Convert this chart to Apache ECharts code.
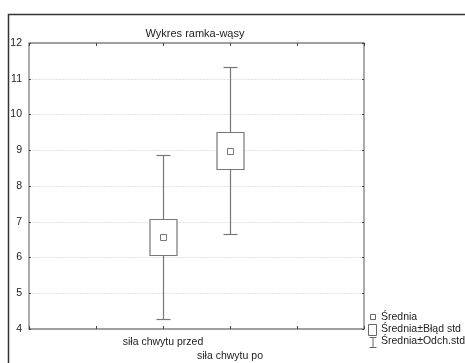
<!DOCTYPE html>
<html><head><meta charset="utf-8">
<script src="https://cdn.jsdelivr.net/npm/echarts@6/dist/echarts.min.js"></script>
<style>html,body{margin:0;padding:0;background:#fff}#c{width:465px;height:363px}</style>
</head><body><div id="c"></div>
<script>
const categories = ['siła chwytu przed', 'siła chwytu po'];
const means = [6.58, 8.99];
const seLow = [6.07, 8.48];
const seHigh = [7.07, 9.50];
const sdLow = [4.28, 6.67];
const sdHigh = [8.88, 11.33];
const yTicks = [4, 5, 6, 7, 8, 9, 10, 11, 12];
const titleText = 'Wykres ramka-wąsy';
const legendNames = ['Średnia', 'Średnia±Błąd std', 'Średnia±Odch.std'];

const FONT = "'Liberation Sans', Arial, sans-serif";
const STROKE = '#777';
const axisCats = ['', ''].concat(categories, ['', '']);
const rows = categories.map((c, i) => [i + 2, means[i], seLow[i], seHigh[i], sdLow[i], sdHigh[i]]);

const chart = echarts.init(document.getElementById('c'));
chart.setOption({
  animation: false,
  backgroundColor: '#fff',
  title: { text: titleText, left: 190, top: 23, textAlign: 'center',
    textStyle: { fontFamily: FONT, fontSize: 11, fontWeight: 'normal', color: '#222' } },
  grid: { left: 29, right: 101, top: 43, bottom: 34, show: true, borderColor: '#808080', borderWidth: 1.3, backgroundColor: '#fff' },
  xAxis: [
    { type: 'category', data: axisCats, boundaryGap: false, position: 'bottom',
      axisLine: { show: false },
      axisTick: { show: true, inside: true, length: 3, interval: 0, lineStyle: { color: '#444' } },
      axisLabel: { interval: 0, margin: 6, fontFamily: FONT, fontSize: 10.5, color: '#222', lineHeight: 14,
        formatter: (v, idx) => idx === 3 ? '\n' + v : v },
      splitLine: { show: false } },
    { type: 'category', data: axisCats, boundaryGap: false, position: 'top',
      axisLine: { show: false },
      axisTick: { show: true, inside: true, length: 3, interval: 0, lineStyle: { color: '#444' } },
      axisLabel: { show: false }, splitLine: { show: false } }
  ],
  yAxis: [
    { type: 'value', min: yTicks[0], max: yTicks[yTicks.length - 1], interval: 1, position: 'left',
      axisLine: { show: false },
      axisTick: { show: true, inside: true, length: 2, lineStyle: { color: '#444' } },
      axisLabel: { margin: 7, fontFamily: FONT, fontSize: 10.5, color: '#222' },
      splitLine: { show: true, showMinLine: false, showMaxLine: false,
        lineStyle: { color: '#e2e2e2', type: [2, 1], width: 1 } } },
    { type: 'value', min: yTicks[0], max: yTicks[yTicks.length - 1], interval: 1, position: 'right',
      axisLine: { show: false },
      axisTick: { show: true, inside: true, length: 2, lineStyle: { color: '#444' } },
      axisLabel: { show: false }, splitLine: { show: false } }
  ],
  series: [
    { name: legendNames[2], type: 'custom', data: rows, z: 2,
      renderItem: (params, api) => {
        const x = api.value(0);
        const top = api.coord([x, api.value(5)]);
        const bot = api.coord([x, api.value(4)]);
        const cx = Math.round(top[0]) + 0.5;
        const ty = Math.round(top[1]) + 0.5, by = Math.round(bot[1]) + 0.5;
        const st = { stroke: STROKE, lineWidth: 1.2 };
        return { type: 'group', children: [
          { type: 'line', shape: { x1: cx, y1: ty, x2: cx, y2: by }, style: st },
          { type: 'line', shape: { x1: cx - 7, y1: ty, x2: cx + 7, y2: ty }, style: st },
          { type: 'line', shape: { x1: cx - 7, y1: by, x2: cx + 7, y2: by }, style: st }
        ] };
      } },
    { name: legendNames[1], type: 'custom', data: rows, z: 3,
      renderItem: (params, api) => {
        const x = api.value(0);
        const top = api.coord([x, api.value(3)]);
        const bot = api.coord([x, api.value(2)]);
        const cx = Math.round(top[0]) + 0.5;
        const ty = Math.round(top[1]) + 0.5, by = Math.round(bot[1]) + 0.5;
        return { type: 'rect', shape: { x: cx - 13.5, y: ty, width: 27, height: by - ty },
          style: { fill: '#fff', stroke: STROKE, lineWidth: 1.2 } };
      } },
    { name: legendNames[0], type: 'custom', data: rows, z: 4,
      renderItem: (params, api) => {
        const x = api.value(0);
        const p = api.coord([x, api.value(1)]);
        const cx = Math.round(p[0]) + 0.5, cy = Math.round(p[1]) + 0.5;
        return { type: 'rect', shape: { x: cx - 3, y: cy - 3, width: 6, height: 6 },
          style: { fill: '#fff', stroke: STROKE, lineWidth: 1 } };
      } }
  ],
  graphic: [
    { type: 'polyline', shape: { points: [[8.5, 363], [8.5, 14.5], [465, 14.5]] },
      style: { stroke: '#333', lineWidth: 1.5, fill: null }, silent: true },
    { type: 'rect', shape: { x: 370.5, y: 314.5, width: 5, height: 5 }, style: { fill: '#fff', stroke: '#666', lineWidth: 1 } },
    { type: 'rect', shape: { x: 368.5, y: 324.5, width: 8, height: 11 }, style: { fill: '#fff', stroke: '#666', lineWidth: 1 } },
    { type: 'line', shape: { x1: 373, y1: 337.5, x2: 373, y2: 347.5 }, style: { stroke: '#666', lineWidth: 1 } },
    { type: 'line', shape: { x1: 369.5, y1: 337.5, x2: 376.5, y2: 337.5 }, style: { stroke: '#666', lineWidth: 1 } },
    { type: 'line', shape: { x1: 369.5, y1: 347.5, x2: 376.5, y2: 347.5 }, style: { stroke: '#666', lineWidth: 1 } },
    { type: 'text', x: 381, y: 317, style: { text: legendNames[0], font: '10.5px ' + FONT, fill: '#222', verticalAlign: 'middle' } },
    { type: 'text', x: 381, y: 329, style: { text: legendNames[1], font: '10.5px ' + FONT, fill: '#222', verticalAlign: 'middle' } },
    { type: 'text', x: 381, y: 341, style: { text: legendNames[2], font: '10.5px ' + FONT, fill: '#222', verticalAlign: 'middle' } }
  ]
});
</script></body></html>
